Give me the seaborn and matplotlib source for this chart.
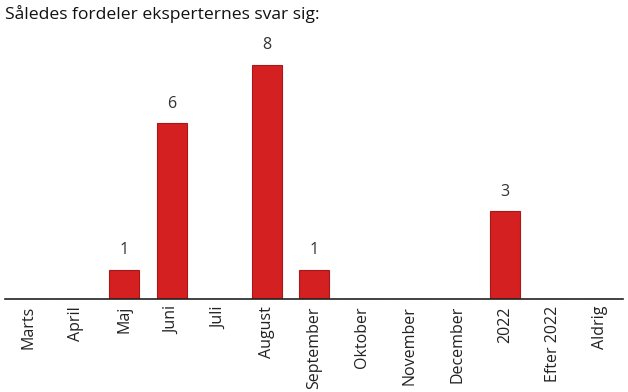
import matplotlib
matplotlib.use("Agg")
import matplotlib.pyplot as plt
import seaborn as sns
import pandas as pd

kategorier = ["Marts", "April", "Maj", "Juni", "Juli", "August", "September",
              "Oktober", "November", "December", "2022", "Efter 2022", "Aldrig"]
svar = [0, 0, 1, 6, 0, 8, 1, 0, 0, 0, 3, 0, 0]

df = pd.DataFrame({"kategori": kategorier, "svar": svar})

sns.set_style("white")
plt.rcParams['font.family'] = ['Open Sans', 'DejaVu Sans']

fig = plt.figure(figsize=(6.28, 3.92), dpi=100)
ax = fig.add_axes([0.008, 0.237, 0.984, 0.66])

sns.barplot(data=df, x="kategori", y="svar", color="#d42020", width=0.63,
            edgecolor="#a81818", linewidth=0.8, saturation=1, ax=ax)

# tal over søjlerne
for i, v in enumerate(svar):
    if v > 0:
        ax.text(i, v + 0.4, str(v), ha="center", va="bottom",
                fontsize=11.5, color="#333333")

ax.set_xlim(-0.5, 12.48)
ax.set_ylim(0, 8.84)
ax.set_xlabel("")
ax.set_ylabel("")
ax.set_yticks([])
ax.tick_params(axis="x", length=0, pad=5, labelsize=11.5, labelcolor="#222222")
plt.setp(ax.get_xticklabels(), rotation=90)
for s in ["top", "right", "left"]:
    ax.spines[s].set_visible(False)
ax.spines["bottom"].set_color("#222222")
ax.spines["bottom"].set_linewidth(1.2)

fig.text(0.008, 0.963, "Således fordeler eksperternes svar sig:", fontsize=12.6,
         color="#111111", ha="left", va="center")

fig.savefig("out.png", dpi=100)
